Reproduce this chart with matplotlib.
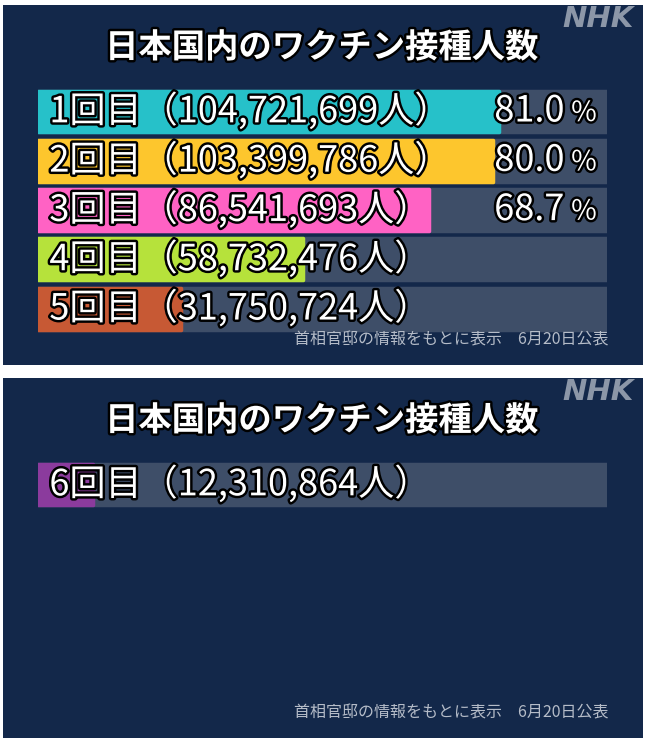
import matplotlib.pyplot as plt
import matplotlib.patheffects as pe

plt.rcParams['font.family'] = ['Noto Sans CJK JP', 'DejaVu Sans']

title = "日本国内のワクチン接種人数"
doses = ["1回目", "2回目", "3回目", "4回目", "5回目", "6回目"]
counts = ["104,721,699", "103,399,786", "86,541,693", "58,732,476", "31,750,724", "12,310,864"]
shares = [81.0, 80.0, 68.7, 46.6, 25.1, 9.7]
shown_pct = ["81.0", "80.0", "68.7", None, None, None]
colors = ["#26c1c9", "#fdc62d", "#ff62c4", "#b6e23b", "#c75934", "#8b3b9d"]
note = "首相官邸の情報をもとに表示　6月20日公表"
panels = [[0, 1, 2, 3, 4], [5]]

navy = "#13284a"
track = "#3e4e68"
W, H = 645, 738

fig = plt.figure(figsize=(6.45, 7.38), dpi=100, facecolor="white")
outline = [pe.withStroke(linewidth=3.5, foreground="black")]


def px_axes(x0, y0, x1, y1):
    return fig.add_axes([x0 / W, 1 - y1 / H, (x1 - x0) / W, (y1 - y0) / H])


def fy(y):
    return 1 - y / H


for top, rows in zip([5, 378], panels):
    bg = px_axes(3, top, 643, top + 360)
    bg.set_facecolor(navy)
    bg.set_xticks([])
    bg.set_yticks([])
    for s in bg.spines.values():
        s.set_visible(False)

    fig.text(322 / W, fy(top + 43), title, ha="center", va="center",
             fontsize=24, fontweight="bold", color="white", path_effects=outline)
    fig.text(598 / W, fy(top + 14), "NHK", ha="center", va="center",
             fontsize=21, fontweight="bold", fontstyle="italic",
             family="DejaVu Sans", color="#8c97a8")
    fig.text(608 / W, fy(top + 335), note, ha="right", va="center",
             fontsize=11.5, color="#b5bcc8")

    ax = px_axes(38, top + 81.85, 607, top + 328.35)
    ax.set_xlim(0, 100)
    ax.set_ylim(4.5, -0.5)
    ax.set_axis_off()
    pos = list(range(len(rows)))
    ax.barh(pos, [100] * len(rows), height=0.85, color=track,
            edgecolor=track, linewidth=2.5, joinstyle="round")
    ax.barh(pos, [shares[r] for r in rows], height=0.85,
            color=[colors[r] for r in rows], edgecolor=[colors[r] for r in rows],
            linewidth=2.5, joinstyle="round")
    for p, r in zip(pos, rows):
        ax.text(2.0, p, f"{doses[r]}（{counts[r]}人）", va="center", ha="left",
                fontsize=26, color="white", path_effects=outline)
        if shown_pct[r]:
            ax.text(92.5, p, shown_pct[r], va="center", ha="right",
                    fontsize=26, color="white", path_effects=outline)
            ax.text(98.2, p + 0.03, "%", va="center", ha="right",
                    fontsize=20, color="white", path_effects=outline)

fig.savefig("out.png", dpi=100, facecolor="white")
